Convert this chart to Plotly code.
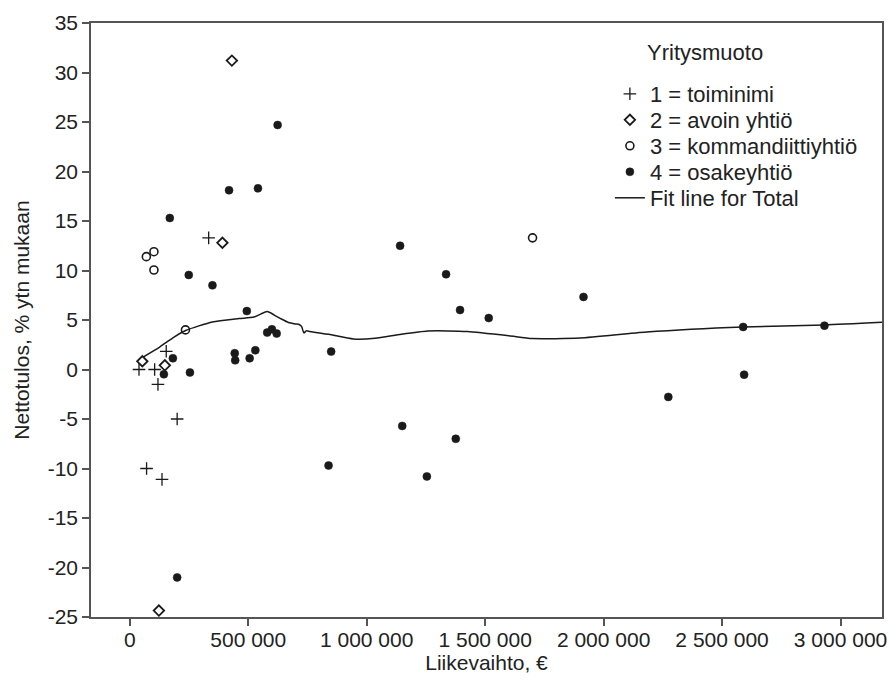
import plotly.graph_objects as go

# --- data ---
tm_x = [39000, 105000, 154000, 119000, 200000, 333000, 71000, 136000]
tm_y = [0.0, 0.0, 1.84, -1.5, -5.0, 13.3, -10.0, -11.1]

ay_x = [53000, 148000, 431000, 391000, 123000]
ay_y = [0.83, 0.42, 31.2, 12.8, -24.35]

ky_x = [235000, 70000, 102000, 102000, 1700000]
ky_y = [4.0, 11.4, 10.05, 11.9, 13.3]

oy_x = [249000, 349000, 494000, 182000, 144000, 254000, 443000, 445000, 506000, 530000,
        580000, 600000, 620000, 624000, 419000, 541000, 169000, 1141000, 200000, 839000,
        1254000, 850000, 1335000, 1394000, 1150000, 1376000, 1515000, 1915000, 2589000,
        2932000, 2593000, 2273000]
oy_y = [9.55, 8.5, 5.9, 1.13, -0.48, -0.3, 1.64, 0.93, 1.13, 1.94,
        3.73, 4.06, 3.63, 24.7, 18.1, 18.3, 15.3, 12.5, -21.0, -9.7,
        -10.8, 1.81, 9.62, 6.01, -5.7, -7.0, 5.2, 7.33, 4.3,
        4.43, -0.52, -2.77]

fit_x = [56000, 126000, 182000, 238000, 349000, 461000, 524000, 580000, 610000, 640000,
         670000, 700000, 715000, 725000, 735000, 745000, 760000, 840000, 944000, 1035000,
         1146000, 1258000, 1342000, 1426000, 1600000, 1699000, 1901000, 2181000, 2589000,
         2932000, 3180000]
fit_y = [1.26, 2.27, 3.2, 3.96, 4.8, 5.14, 5.3, 5.85, 5.5, 5.1,
         4.75, 4.6, 4.55, 4.35, 3.7, 3.9, 3.85, 3.55, 3.08, 3.15,
         3.56, 3.89, 3.9, 3.83, 3.4, 3.12, 3.18, 3.79, 4.3,
         4.5, 4.78]

x_ticks = [0, 500000, 1000000, 1500000, 2000000, 2500000, 3000000]
y_ticks = list(range(-25, 40, 5))
y_tick_text = [str(v) for v in y_ticks]
legend_title = "Yritysmuoto"

INK = "#1a1a1a"
FONT = "Liberation Sans, Arial, sans-serif"
fig = go.Figure()
fig.add_trace(go.Scatter(x=tm_x, y=tm_y, mode="markers", name="1 = toiminimi", legend="legend",
                         showlegend=True,
                         marker=dict(symbol="cross-thin", size=9, line=dict(color=INK, width=1.3))))
fig.add_trace(go.Scatter(x=ay_x, y=ay_y, mode="markers", name="2 = avoin yhtiö", legend="legend2",
                         marker=dict(symbol="diamond-open", size=8, color=INK, line=dict(width=1.8))))
fig.add_trace(go.Scatter(x=ky_x, y=ky_y, mode="markers", name="3 = kommandiittiyhtiö", legend="legend3",
                         marker=dict(symbol="circle-open", size=8, color=INK, line=dict(width=1.6))))
fig.add_trace(go.Scatter(x=oy_x, y=oy_y, mode="markers", name="4 = osakeyhtiö", legend="legend4",
                         marker=dict(symbol="circle", size=8, color=INK,
                                     line=dict(color=INK, width=0.5))))
fig.add_trace(go.Scatter(x=fit_x, y=fit_y, mode="lines", name="Fit line for Total", legend="legend5",
                         line=dict(color=INK, width=1.5, shape="spline", smoothing=0.6)))

axis_common = dict(showline=True, linecolor="#555555", linewidth=1.5, mirror=True,
                   ticks="outside", ticklen=7, tickwidth=1.5, tickcolor="#555555",
                   showgrid=False, zeroline=False, ticklabeloverflow="allow",
                   tickfont=dict(family=FONT, size=21, color="#222222"))

def leg(yc):
    return dict(x=0.656, y=yc, xanchor="left", yanchor="middle",
                bgcolor="rgba(0,0,0,0)", borderwidth=0,
                font=dict(size=22), itemwidth=30)

PT, PH = 23, 594  # plot-area top & height in px (for legend placement)
def frac(px):
    return 1 - (px - PT) / PH

fig.update_layout(
    width=889, height=687,
    margin=dict(l=91, r=2, t=PT, b=70),
    paper_bgcolor="white", plot_bgcolor="white",
    separators=", ",
    showlegend=True,
    font=dict(family=FONT, size=21, color="#222222"),
    xaxis=dict(range=[-163600, 3174900], tickvals=x_ticks, tickformat=",d",
               ticklabelstandoff=-4,
               title=dict(text="Liikevaihto, €", font=dict(size=21), standoff=0),
               **axis_common),
    yaxis=dict(range=[-25, 35], tickvals=y_ticks, ticktext=y_tick_text,
               title=dict(text="Nettotulos, % ytn mukaan", font=dict(size=21), standoff=12),
               **axis_common),
    legend=leg(frac(94)),
    legend2=leg(frac(120)),
    legend3=leg(frac(146)),
    legend4=leg(frac(172)),
    legend5=leg(frac(198)),
    annotations=[dict(text=legend_title, xref="paper", yref="paper",
                      x=(649 - 91) / 796, y=frac(52), xanchor="left", yanchor="middle",
                      showarrow=False, font=dict(size=22))],
)

fig.write_html("out.html")
